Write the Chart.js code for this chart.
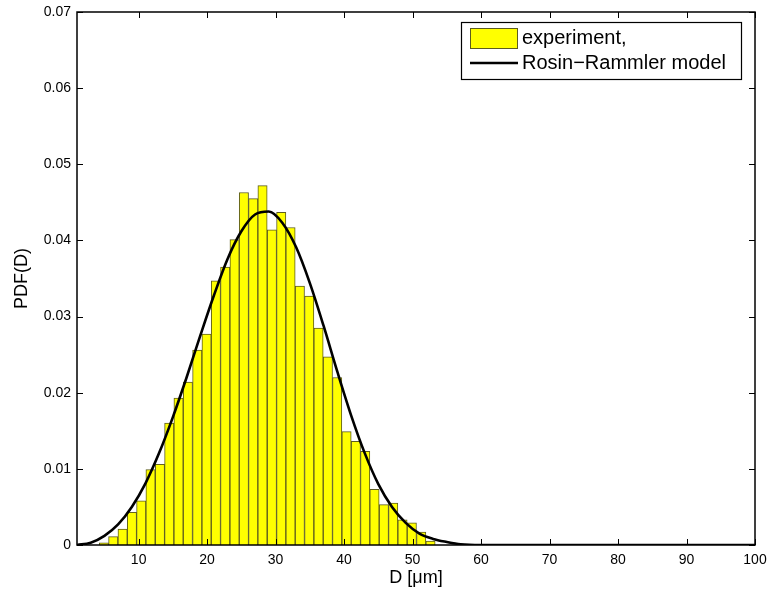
<!DOCTYPE html>
<html>
<head>
<meta charset="utf-8">
<script src="https://cdn.jsdelivr.net/npm/chart.js@4.4.1/dist/chart.umd.min.js"></script>
<style>
html,body{margin:0;padding:0;background:#fff;}
canvas{display:block;}
</style>
</head>
<body>
<canvas id="c" width="768" height="589"></canvas>
<script>
// ---- Data ----
const binCenters = [4.93, 6.29, 7.66, 9.02, 10.38, 11.74, 13.11, 14.47, 15.83, 17.19,
  18.56, 19.92, 21.28, 22.64, 24.01, 25.37, 26.73, 28.09, 29.46, 30.82,
  32.18, 33.54, 34.91, 36.27, 37.63, 38.99, 40.36, 41.72, 43.08, 44.44,
  45.81, 47.17, 48.53, 49.89, 51.26, 52.62];
const experimentPdf = [0.0003, 0.0011, 0.0021, 0.0043, 0.0058, 0.0099, 0.0106, 0.0160, 0.0193, 0.0214,
  0.0256, 0.0277, 0.0347, 0.0365, 0.0401, 0.0463, 0.0455, 0.0472, 0.0414, 0.0437,
  0.0417, 0.0340, 0.0327, 0.0285, 0.0247, 0.0220, 0.0149, 0.0136, 0.0123, 0.0073,
  0.0053, 0.0055, 0.0033, 0.0029, 0.0017, 0.0005];
const modelD = [1, 3, 5, 7, 9, 11, 13, 15, 17, 19, 21, 23, 25, 27, 29, 31, 33, 35, 37, 39,
  41, 43, 45, 47, 49, 51, 53, 55, 57, 60, 70, 80, 90, 100];
const modelPdf = [0.0000, 0.0003, 0.0012, 0.0027, 0.0050, 0.0081, 0.0121, 0.0168, 0.0220, 0.0275,
  0.0328, 0.0376, 0.0412, 0.0434, 0.0438, 0.0423, 0.0391, 0.0344, 0.0288, 0.0228,
  0.0171, 0.0121, 0.0080, 0.0050, 0.0029, 0.0015, 0.0008, 0.0004, 0.0001, 0.0000,
  0, 0, 0, 0];
const xTickValues = [10, 20, 30, 40, 50, 60, 70, 80, 90, 100];
const yTickValues = [0, 0.01, 0.02, 0.03, 0.04, 0.05, 0.06, 0.07];
const yTickLabels = ['0', '0.01', '0.02', '0.03', '0.04', '0.05', '0.06', '0.07'];
const seriesNames = ['experiment,', 'Rosin\u2212Rammler model'];
const xTitle = 'D [\u03bcm]';
const yTitle = 'PDF(D)';

const FONT = "'Liberation Sans', Arial, Helvetica, sans-serif";

const framePlugin = {
  id: 'frame',
  afterDraw(chart) {
    const ctx = chart.ctx;
    const a = chart.chartArea;
    const xs = chart.scales.x, ys = chart.scales.y;
    ctx.save();
    ctx.strokeStyle = '#000';
    ctx.lineWidth = 1.5;
    ctx.strokeRect(a.left, a.top, a.right - a.left, a.bottom - a.top);
    ctx.lineWidth = 1;
    const tl = 6;
    ctx.beginPath();
    xTickValues.forEach(v => {
      const px = Math.round(xs.getPixelForValue(v)) + 0.5;
      ctx.moveTo(px, a.bottom); ctx.lineTo(px, a.bottom - tl);
      ctx.moveTo(px, a.top); ctx.lineTo(px, a.top + tl);
    });
    yTickValues.forEach(v => {
      const py = Math.round(ys.getPixelForValue(v)) + 0.5;
      ctx.moveTo(a.left, py); ctx.lineTo(a.left + tl, py);
      ctx.moveTo(a.right, py); ctx.lineTo(a.right - tl, py);
    });
    ctx.stroke();

    // legend
    const ds = chart.data.datasets;
    const bx = 461, by = 22, bw = 280, bh = 57;
    ctx.fillStyle = '#fff';
    ctx.fillRect(bx, by, bw, bh);
    ctx.lineWidth = 1.2;
    ctx.strokeStyle = '#000';
    ctx.strokeRect(bx + 0.5, by + 0.5, bw, bh);
    ctx.fillStyle = ds[0].backgroundColor;
    ctx.fillRect(470, 28, 47, 20);
    ctx.strokeStyle = ds[0].borderColor;
    ctx.lineWidth = 1;
    ctx.strokeRect(470.5, 28.5, 47, 20);
    ctx.strokeStyle = ds[1].borderColor;
    ctx.lineWidth = 2.5;
    ctx.beginPath();
    ctx.moveTo(470, 63); ctx.lineTo(518, 63);
    ctx.stroke();
    ctx.fillStyle = '#000';
    ctx.font = '20px ' + FONT;
    ctx.textBaseline = 'middle';
    ctx.textAlign = 'left';
    ctx.fillText(ds[0].label, 522, 38);
    ctx.fillText(ds[1].label, 522, 63);
    ctx.restore();
  }
};

new Chart(document.getElementById('c'), {
  data: {
    datasets: [
      {
        type: 'bar',
        label: seriesNames[0],
        data: binCenters.map((x, i) => ({ x: x, y: experimentPdf[i] })),
        backgroundColor: '#ffff00',
        borderColor: '#5c5c1e',
        borderWidth: 1,
        barPercentage: 1,
        categoryPercentage: 1,
        order: 2
      },
      {
        type: 'line',
        label: seriesNames[1],
        data: modelD.map((x, i) => ({ x: x, y: modelPdf[i] })),
        borderColor: '#000',
        borderWidth: 2.6,
        pointRadius: 0,
        fill: false,
        cubicInterpolationMode: 'monotone',
        order: 1
      }
    ]
  },
  options: {
    responsive: false,
    animation: false,
    devicePixelRatio: 1,
    layout: { padding: { left: 0, right: 13, top: 12, bottom: 0 } },
    plugins: { legend: { display: false }, tooltip: { enabled: false } },
    scales: {
      x: {
        type: 'linear',
        min: 1,
        max: 100,
        offset: false,
        grid: { display: false, drawTicks: false },
        border: { display: false },
        afterBuildTicks(s) { s.ticks = xTickValues.map(v => ({ value: v })); },
        afterFit(s) { s.height = 44; s.paddingLeft = 0; s.paddingRight = 0; },
        ticks: {
          padding: 7,
          color: '#000',
          maxRotation: 0,
          autoSkip: false,
          font: { family: FONT, size: 14 },
          callback: v => String(v)
        },
        title: {
          display: true,
          text: xTitle,
          color: '#000',
          font: { family: FONT, size: 18 },
          padding: { top: 0, bottom: 0 }
        }
      },
      y: {
        type: 'linear',
        min: 0,
        max: 0.07,
        grid: { display: false, drawTicks: false },
        border: { display: false },
        afterBuildTicks(s) { s.ticks = yTickValues.map(v => ({ value: v })); },
        afterFit(s) { s.width = 77; s.paddingTop = 0; s.paddingBottom = 0; },
        ticks: {
          padding: 6,
          color: '#000',
          autoSkip: false,
          font: { family: FONT, size: 14 },
          callback: (v, i) => yTickLabels[i]
        },
        title: {
          display: true,
          text: yTitle,
          color: '#000',
          font: { family: FONT, size: 18 },
          padding: { top: 11, bottom: 0 }
        }
      }
    }
  },
  plugins: [framePlugin]
});
</script>
</body>
</html>
